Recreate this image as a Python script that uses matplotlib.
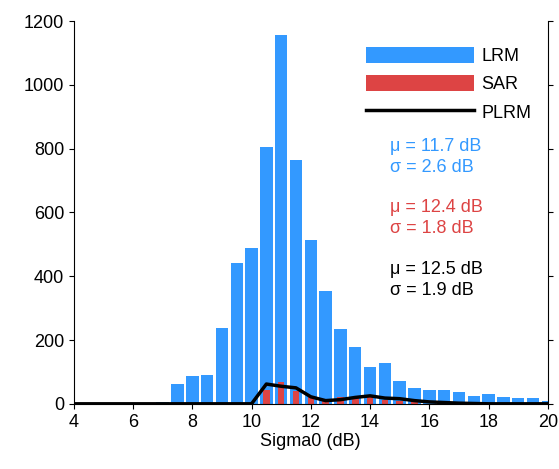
import matplotlib
matplotlib.use("Agg")
import matplotlib.pyplot as plt
import numpy as np

plt.rcParams['font.family'] = ['Liberation Sans', 'DejaVu Sans']

bins = [7.0,7.5,8.0,8.5,9.0,9.5,10.0,10.5,11.0,11.5,12.0,12.5,13.0,13.5,14.0,14.5,15.0,15.5,16.0,16.5,17.0,17.5,18.0,18.5,19.0,19.5,20.0]
lrm = [7,62,86,91,237,443,487,805,1157,763,515,355,235,178,115,129,70,49,44,42,36,25,31,20,18,18,10]
sar_bins = [10.5,11.0,11.5,12.0,12.5,13.0,13.5,14.0,14.5,15.0,15.5]
sar = [44,67,39,26,8,22,18,22,12,8,5]
plrm_x = [4,5,6,7,8,9,10.0,10.5,11.0,11.5,12.0,12.5,13.0,13.5,14.0,14.5,15.0,15.5,16.0,16.5,17.0,18,19,20]
plrm = [0,0,0,0,0,0,0,62,55,50,22,10,13,20,25,18,16,10,6,4,2,0,0,0]

blue = '#3399ff'; red = '#dd4444'
fig = plt.figure(figsize=(5.59,4.69), dpi=100)
ax = fig.add_axes([0.132,0.139,0.848,0.816])
h1 = ax.bar(bins, lrm, width=0.42, color=blue, label='LRM')
h2 = ax.bar(sar_bins, sar, width=0.22, color=red, label='SAR')
h3, = ax.plot(plrm_x, plrm, color='black', lw=2.5, label='PLRM')
ax.set_xlim(4,20); ax.set_ylim(0,1200)
ax.set_xticks(range(4,21,2)); ax.set_yticks(range(0,1201,200))
ax.spines['top'].set_visible(False)
ax.tick_params(labelsize=13, right=True, direction='out')
ax.set_xlabel('Sigma0 (dB)', fontsize=13, labelpad=2)
ax.legend([h1,h2,h3],['LRM','SAR','PLRM'], loc='upper right', frameon=False, fontsize=13,
          handlelength=6.0, handleheight=1.0, labelspacing=0.55, handletextpad=0.4,
          bbox_to_anchor=(1.0,0.975))
kw = dict(transform=ax.transAxes, fontsize=13, va='top', linespacing=1.3)
ax.text(0.667,0.695,'μ = 11.7 dB\nσ = 2.6 dB', color=blue, **kw)
ax.text(0.667,0.535,'μ = 12.4 dB\nσ = 1.8 dB', color=red, **kw)
ax.text(0.667,0.372,'μ = 12.5 dB\nσ = 1.9 dB', color='black', **kw)
fig.savefig('out.png', dpi=100)
